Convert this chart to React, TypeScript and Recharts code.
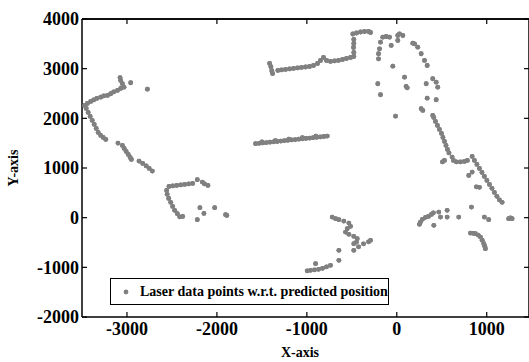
import React from "react";
import { ScatterChart, Scatter, XAxis, YAxis, ReferenceLine } from "recharts";

const FONT = "'Liberation Serif', 'Times New Roman', serif";
const DOT = "#808080";

const X_MIN = -3500;
const X_MAX = 1470;
const Y_MIN = -2000;
const Y_MAX = 4000;
const xTicks = [-3000, -2000, -1000, 0, 1000];
const yTicks = [-2000, -1000, 0, 1000, 2000, 3000, 4000];
const legendLabel = "Laser data points w.r.t. predicted position";

// laser hits, grouped by wall
const leftWallUpper = [
  [-3470, 2260], [-3440, 2300], [-3403, 2341], [-3370, 2370], [-3336, 2400],
  [-3292, 2426], [-3259, 2451], [-3217, 2461], [-3181, 2495], [-3148, 2531],
  [-3106, 2561], [-3070, 2602], [-3033, 2628], [-3051, 2696], [-3070, 2762],
  [-3077, 2820], [-2959, 2716], [-2773, 2588],
];
const leftWallLower = [
  [-3453, 2199], [-3431, 2119], [-3409, 2038], [-3386, 1958], [-3364, 1877],
  [-3342, 1797], [-3320, 1716], [-3292, 1656], [-3264, 1616], [-3236, 1575],
  [-3100, 1501], [-3051, 1455], [-3031, 1394], [-3009, 1334], [-2986, 1274],
  [-2964, 1213], [-2951, 1173], [-2866, 1139], [-2825, 1093], [-2786, 1042],
  [-2753, 992], [-2718, 938],
];
const cornerL = [
  [-2533, 630], [-2492, 640], [-2448, 650], [-2403, 660], [-2359, 670],
  [-2314, 680], [-2270, 690], [-2218, 765], [-2162, 716], [-2137, 680],
  [-2100, 650], [-2559, 549], [-2553, 469], [-2536, 388], [-2514, 308],
  [-2492, 227], [-2470, 147], [-2440, 80], [-2414, 16], [-2381, 26],
  [-2189, 201], [-2144, 85], [-2025, 201], [-2218, -40], [-1903, 60], [-1890, 45],
];
const upperWall = [
  [-1414, 3105], [-1400, 3040], [-1390, 2960], [-1381, 2903],
  [-1322, 2964], [-1281, 2974], [-1237, 2984], [-1192, 2994], [-1148, 3004],
  [-1103, 3014], [-1059, 3024], [-1014, 3034], [-970, 3044], [-926, 3064],
  [-881, 3104], [-848, 3164], [-815, 3225], [-781, 3164], [-737, 3145],
  [-692, 3155], [-648, 3165], [-603, 3185], [-559, 3205], [-514, 3225],
  [-478, 3245], [-478, 3326], [-481, 3426], [-478, 3507], [-478, 3587],
  [-489, 3698], [-448, 3718], [-403, 3738], [-359, 3748], [-314, 3748], [-292, 3728],
];
const midWall = [
  [-1570, 1489], [-1530, 1496], [-1490, 1504], [-1450, 1511], [-1410, 1519],
  [-1370, 1527], [-1330, 1534], [-1290, 1542], [-1250, 1550], [-1210, 1557],
  [-1170, 1565], [-1130, 1572], [-1090, 1580], [-1050, 1588], [-1010, 1595],
  [-970, 1603], [-930, 1610], [-890, 1618], [-850, 1626], [-810, 1634], [-773, 1642],
  [-1500, 1525], [-1350, 1550], [-1200, 1580], [-1050, 1610], [-900, 1640],
];
const topArc = [
  [-156, 3634], [-118, 3648], [-181, 3533], [-192, 3400], [-203, 3300],
  [-203, 3199], [-81, 3634], [-62, 3467], [11, 3668], [30, 3702], [67, 3668],
  [11, 3567], [178, 3513], [197, 3500], [233, 3433], [271, 3300], [308, 3165],
  [338, 3064], [-44, 3051], [86, 2829], [104, 2642], [116, 2615], [-211, 2696],
  [-181, 2475], [327, 2696], [400, 2797], [438, 2729], [455, 2628], [338, 2406],
  [438, 2374], [271, 2193], [289, 2159], [-14, 2044], [400, 2058],
];
const rightWall = [
  [411, 2018], [430, 1938], [452, 1857], [474, 1777], [497, 1697], [513, 1616],
  [530, 1535], [547, 1455], [563, 1375], [580, 1304], [615, 1219], [630, 1153],
  [663, 1123], [708, 1123], [752, 1133], [785, 1153], [508, 1123], [530, 1153],
  [838, 1233], [863, 1153], [891, 1072], [919, 992], [947, 911], [974, 831],
  [1002, 750], [1030, 670], [1058, 590], [1085, 509], [1113, 429], [1141, 358],
  [1171, 308], [800, 851], [838, 918], [885, 620], [919, 610], [830, 213],
];
const lowerS = [
  [-718, 12], [-681, -20], [-644, -40], [-589, -68], [-533, -109], [-514, -175],
  [-551, -221], [-570, -290], [-533, -336], [-478, -376], [-440, -423],
  [-448, -491], [-478, -523], [-478, -658], [-425, -588], [-370, -527],
  [-314, -487], [-292, -457], [-644, -658], [-644, -859],
];
const lowerLine = [
  [-996, -1070], [-959, -1060], [-914, -1050], [-870, -1040], [-826, -1020],
  [-781, -990], [-737, -960], [-903, -926],
];
const rightCluster = [
  [263, -88], [252, -135], [285, -34], [319, 6], [352, 26], [385, 66], [407, 97],
  [467, 113], [560, 147], [560, 12], [486, 12], [412, -155], [689, 12],
  [974, 12], [1022, -40], [1244, -20], [1282, -20], [1263, -4],
  [819, -310], [850, -316], [874, -322], [905, -350], [930, -390], [950, -455],
  [967, -523], [978, -575], [985, -624],
];

const points = [
  ...leftWallUpper, ...leftWallLower, ...cornerL, ...upperWall, ...midWall,
  ...topArc, ...rightWall, ...lowerS, ...lowerLine, ...rightCluster,
].map(([x, y]) => ({ x, y }));

const axisLine = { stroke: "#000", strokeWidth: 1.5 };
const tickLine = { stroke: "#000", strokeWidth: 1.2 };
const tickText = { fill: "#000", fontSize: 18, fontWeight: "bold", fontFamily: FONT };

const renderDot = (props: any) => (
  <circle cx={props.cx} cy={props.cy} r={2.4} fill={DOT} />
);

const titleStyle: React.CSSProperties = {
  position: "absolute", fontFamily: FONT, fontWeight: "bold", fontSize: 14,
  color: "#000", whiteSpace: "nowrap", lineHeight: "14px",
};

export default function App() {
  return (
    <div style={{ position: "absolute", left: 0, top: 0, width: 529, height: 362, background: "#fff" }}>
      <ScatterChart width={529} height={362} margin={{ top: 0, right: 0, bottom: 0, left: 0 }}>
        <XAxis
          xAxisId="b" type="number" dataKey="x" domain={[X_MIN, X_MAX]} ticks={xTicks}
          height={45} tickSize={-5} tickMargin={10}
          axisLine={axisLine} tickLine={tickLine} tick={tickText}
        />
        <XAxis
          xAxisId="t" orientation="top" type="number" dataKey="x" domain={[X_MIN, X_MAX]}
          ticks={xTicks} height={19} tickSize={-5}
          axisLine={axisLine} tickLine={tickLine} tick={{ fillOpacity: 0 }}
        />
        <YAxis
          yAxisId="l" type="number" dataKey="y" domain={[Y_MIN, Y_MAX]} ticks={yTicks}
          width={82} tickSize={-5} tickMargin={8}
          axisLine={axisLine} tickLine={tickLine} tick={tickText}
        />
        {/* box frame: top and right edges with inward ticks */}
        <ReferenceLine xAxisId="b" yAxisId="l" y={Y_MAX} stroke="#000" strokeWidth={1.5} />
        <ReferenceLine xAxisId="b" yAxisId="l" x={X_MAX} stroke="#000" strokeWidth={1.5} />
        {yTicks.map((t) => (
          <ReferenceLine
            key={`ty${t}`} xAxisId="b" yAxisId="l" stroke="#000" strokeWidth={1.2}
            segment={[{ x: X_MAX - 55, y: t }, { x: X_MAX, y: t }]}
          />
        ))}
        <Scatter
          xAxisId="t" yAxisId="l" data={points} fill={DOT}
          shape={renderDot} isAnimationActive={false}
        />
        <Scatter
          xAxisId="b" yAxisId="l" data={points} fill={DOT}
          shape={renderDot} isAnimationActive={false}
        />
      </ScatterChart>
      {/* axis titles */}
      <div style={{ ...titleStyle, left: 300, top: 346, transform: "translateX(-50%)" }}>X-axis</div>
      <div style={{ ...titleStyle, left: 14, top: 168, transform: "translate(-50%, -50%) rotate(-90deg)" }}>Y-axis</div>
      {/* legend box */}
      <div
        style={{
          position: "absolute", left: 110, top: 278, width: 279, height: 27,
          boxSizing: "border-box", border: "1.5px solid #000", background: "#fff",
          display: "flex", alignItems: "center",
          fontFamily: FONT, fontWeight: "bold", fontSize: 14, color: "#000",
        }}
      >
        <svg width={29} height={10}>
          <circle cx={15} cy={5} r={2.4} fill={DOT} />
        </svg>
        <span>{legendLabel}</span>
      </div>
    </div>
  );
}
